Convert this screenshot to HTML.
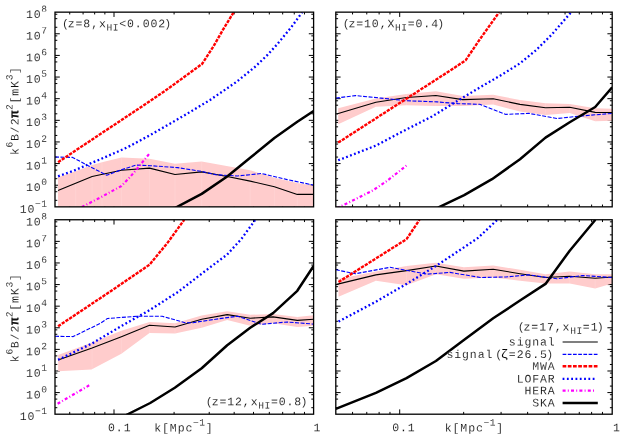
<!DOCTYPE html>
<html><head><meta charset="utf-8"><title>Power spectrum sensitivity</title>
<style>
html,body{margin:0;padding:0;background:#fff;}
body{width:627px;height:439px;overflow:hidden;font-family:"Liberation Mono",monospace;}
svg{display:block;will-change:transform;}
text{font-family:"Liberation Mono",monospace;}
</style></head><body>
<svg width="627" height="439" viewBox="0 0 627 439">
<rect width="100%" height="100%" fill="#fff"/>
<defs>
<clipPath id="cTL"><rect x="55.00" y="12.15" width="258.60" height="194.70"/></clipPath>
<clipPath id="cTR"><rect x="335.80" y="12.15" width="276.40" height="194.70"/></clipPath>
<clipPath id="cBL"><rect x="55.00" y="219.75" width="258.60" height="194.45"/></clipPath>
<clipPath id="cBR"><rect x="335.80" y="219.75" width="276.40" height="194.45"/></clipPath>
</defs>
<path d="M55.00 200.34L57.30 200.34 M313.60 200.34L311.30 200.34 M55.00 191.73L57.30 191.73 M313.60 191.73L311.30 191.73 M55.00 187.31L57.30 187.31 M313.60 187.31L311.30 187.31 M55.00 185.22L59.80 185.22 M313.60 185.22L308.80 185.22 M55.00 178.70L57.30 178.70 M313.60 178.70L311.30 178.70 M55.00 170.10L57.30 170.10 M313.60 170.10L311.30 170.10 M55.00 165.68L57.30 165.68 M313.60 165.68L311.30 165.68 M55.00 163.58L59.80 163.58 M313.60 163.58L308.80 163.58 M55.00 157.07L57.30 157.07 M313.60 157.07L311.30 157.07 M55.00 148.46L57.30 148.46 M313.60 148.46L311.30 148.46 M55.00 144.05L57.30 144.05 M313.60 144.05L311.30 144.05 M55.00 141.95L59.80 141.95 M313.60 141.95L308.80 141.95 M55.00 135.44L57.30 135.44 M313.60 135.44L311.30 135.44 M55.00 126.83L57.30 126.83 M313.60 126.83L311.30 126.83 M55.00 122.41L57.30 122.41 M313.60 122.41L311.30 122.41 M55.00 120.32L59.80 120.32 M313.60 120.32L308.80 120.32 M55.00 113.80L57.30 113.80 M313.60 113.80L311.30 113.80 M55.00 105.20L57.30 105.20 M313.60 105.20L311.30 105.20 M55.00 100.78L57.30 100.78 M313.60 100.78L311.30 100.78 M55.00 98.68L59.80 98.68 M313.60 98.68L308.80 98.68 M55.00 92.17L57.30 92.17 M313.60 92.17L311.30 92.17 M55.00 83.56L57.30 83.56 M313.60 83.56L311.30 83.56 M55.00 79.15L57.30 79.15 M313.60 79.15L311.30 79.15 M55.00 77.05L59.80 77.05 M313.60 77.05L308.80 77.05 M55.00 70.54L57.30 70.54 M313.60 70.54L311.30 70.54 M55.00 61.93L57.30 61.93 M313.60 61.93L311.30 61.93 M55.00 57.51L57.30 57.51 M313.60 57.51L311.30 57.51 M55.00 55.42L59.80 55.42 M313.60 55.42L308.80 55.42 M55.00 48.90L57.30 48.90 M313.60 48.90L311.30 48.90 M55.00 40.30L57.30 40.30 M313.60 40.30L311.30 40.30 M55.00 35.88L57.30 35.88 M313.60 35.88L311.30 35.88 M55.00 33.78L59.80 33.78 M313.60 33.78L308.80 33.78 M55.00 27.27L57.30 27.27 M313.60 27.27L311.30 27.27 M55.00 18.66L57.30 18.66 M313.60 18.66L311.30 18.66 M55.00 14.25L57.30 14.25 M313.60 14.25L311.30 14.25 M69.72 12.15L69.72 14.45 M69.72 206.85L69.72 204.55 M83.08 12.15L83.08 14.45 M83.08 206.85L83.08 204.55 M94.66 12.15L94.66 14.45 M94.66 206.85L94.66 204.55 M104.87 12.15L104.87 14.45 M104.87 206.85L104.87 204.55 M114.00 12.15L114.00 16.95 M114.00 206.85L114.00 202.05 M174.09 12.15L174.09 14.45 M174.09 206.85L174.09 204.55 M209.23 12.15L209.23 14.45 M209.23 206.85L209.23 204.55 M234.17 12.15L234.17 14.45 M234.17 206.85L234.17 204.55 M253.51 12.15L253.51 14.45 M253.51 206.85L253.51 204.55 M269.32 12.15L269.32 14.45 M269.32 206.85L269.32 204.55 M282.68 12.15L282.68 14.45 M282.68 206.85L282.68 204.55 M294.26 12.15L294.26 14.45 M294.26 206.85L294.26 204.55 M304.47 12.15L304.47 14.45 M304.47 206.85L304.47 204.55" stroke="#000" stroke-width="1" fill="none"/>
<path d="M335.80 200.34L338.10 200.34 M612.20 200.34L609.90 200.34 M335.80 191.73L338.10 191.73 M612.20 191.73L609.90 191.73 M335.80 187.31L338.10 187.31 M612.20 187.31L609.90 187.31 M335.80 185.22L340.60 185.22 M612.20 185.22L607.40 185.22 M335.80 178.70L338.10 178.70 M612.20 178.70L609.90 178.70 M335.80 170.10L338.10 170.10 M612.20 170.10L609.90 170.10 M335.80 165.68L338.10 165.68 M612.20 165.68L609.90 165.68 M335.80 163.58L340.60 163.58 M612.20 163.58L607.40 163.58 M335.80 157.07L338.10 157.07 M612.20 157.07L609.90 157.07 M335.80 148.46L338.10 148.46 M612.20 148.46L609.90 148.46 M335.80 144.05L338.10 144.05 M612.20 144.05L609.90 144.05 M335.80 141.95L340.60 141.95 M612.20 141.95L607.40 141.95 M335.80 135.44L338.10 135.44 M612.20 135.44L609.90 135.44 M335.80 126.83L338.10 126.83 M612.20 126.83L609.90 126.83 M335.80 122.41L338.10 122.41 M612.20 122.41L609.90 122.41 M335.80 120.32L340.60 120.32 M612.20 120.32L607.40 120.32 M335.80 113.80L338.10 113.80 M612.20 113.80L609.90 113.80 M335.80 105.20L338.10 105.20 M612.20 105.20L609.90 105.20 M335.80 100.78L338.10 100.78 M612.20 100.78L609.90 100.78 M335.80 98.68L340.60 98.68 M612.20 98.68L607.40 98.68 M335.80 92.17L338.10 92.17 M612.20 92.17L609.90 92.17 M335.80 83.56L338.10 83.56 M612.20 83.56L609.90 83.56 M335.80 79.15L338.10 79.15 M612.20 79.15L609.90 79.15 M335.80 77.05L340.60 77.05 M612.20 77.05L607.40 77.05 M335.80 70.54L338.10 70.54 M612.20 70.54L609.90 70.54 M335.80 61.93L338.10 61.93 M612.20 61.93L609.90 61.93 M335.80 57.51L338.10 57.51 M612.20 57.51L609.90 57.51 M335.80 55.42L340.60 55.42 M612.20 55.42L607.40 55.42 M335.80 48.90L338.10 48.90 M612.20 48.90L609.90 48.90 M335.80 40.30L338.10 40.30 M612.20 40.30L609.90 40.30 M335.80 35.88L338.10 35.88 M612.20 35.88L609.90 35.88 M335.80 33.78L340.60 33.78 M612.20 33.78L607.40 33.78 M335.80 27.27L338.10 27.27 M612.20 27.27L609.90 27.27 M335.80 18.66L338.10 18.66 M612.20 18.66L609.90 18.66 M335.80 14.25L338.10 14.25 M612.20 14.25L609.90 14.25 M352.56 12.15L352.56 14.45 M352.56 206.85L352.56 204.55 M366.78 12.15L366.78 14.45 M366.78 206.85L366.78 204.55 M379.11 12.15L379.11 14.45 M379.11 206.85L379.11 204.55 M389.98 12.15L389.98 14.45 M389.98 206.85L389.98 204.55 M399.70 12.15L399.70 16.95 M399.70 206.85L399.70 202.05 M463.67 12.15L463.67 14.45 M463.67 206.85L463.67 204.55 M501.09 12.15L501.09 14.45 M501.09 206.85L501.09 204.55 M527.64 12.15L527.64 14.45 M527.64 206.85L527.64 204.55 M548.23 12.15L548.23 14.45 M548.23 206.85L548.23 204.55 M565.06 12.15L565.06 14.45 M565.06 206.85L565.06 204.55 M579.28 12.15L579.28 14.45 M579.28 206.85L579.28 204.55 M591.61 12.15L591.61 14.45 M591.61 206.85L591.61 204.55 M602.48 12.15L602.48 14.45 M602.48 206.85L602.48 204.55" stroke="#000" stroke-width="1" fill="none"/>
<path d="M55.00 407.70L57.30 407.70 M313.60 407.70L311.30 407.70 M55.00 399.10L57.30 399.10 M313.60 399.10L311.30 399.10 M55.00 394.69L57.30 394.69 M313.60 394.69L311.30 394.69 M55.00 392.59L59.80 392.59 M313.60 392.59L308.80 392.59 M55.00 386.09L57.30 386.09 M313.60 386.09L311.30 386.09 M55.00 377.49L57.30 377.49 M313.60 377.49L311.30 377.49 M55.00 373.08L57.30 373.08 M313.60 373.08L311.30 373.08 M55.00 370.99L59.80 370.99 M313.60 370.99L308.80 370.99 M55.00 364.48L57.30 364.48 M313.60 364.48L311.30 364.48 M55.00 355.89L57.30 355.89 M313.60 355.89L311.30 355.89 M55.00 351.48L57.30 351.48 M313.60 351.48L311.30 351.48 M55.00 349.38L59.80 349.38 M313.60 349.38L308.80 349.38 M55.00 342.88L57.30 342.88 M313.60 342.88L311.30 342.88 M55.00 334.28L57.30 334.28 M313.60 334.28L311.30 334.28 M55.00 329.87L57.30 329.87 M313.60 329.87L311.30 329.87 M55.00 327.78L59.80 327.78 M313.60 327.78L308.80 327.78 M55.00 321.27L57.30 321.27 M313.60 321.27L311.30 321.27 M55.00 312.68L57.30 312.68 M313.60 312.68L311.30 312.68 M55.00 308.27L57.30 308.27 M313.60 308.27L311.30 308.27 M55.00 306.17L59.80 306.17 M313.60 306.17L308.80 306.17 M55.00 299.67L57.30 299.67 M313.60 299.67L311.30 299.67 M55.00 291.07L57.30 291.07 M313.60 291.07L311.30 291.07 M55.00 286.66L57.30 286.66 M313.60 286.66L311.30 286.66 M55.00 284.57L59.80 284.57 M313.60 284.57L308.80 284.57 M55.00 278.06L57.30 278.06 M313.60 278.06L311.30 278.06 M55.00 269.47L57.30 269.47 M313.60 269.47L311.30 269.47 M55.00 265.05L57.30 265.05 M313.60 265.05L311.30 265.05 M55.00 262.96L59.80 262.96 M313.60 262.96L308.80 262.96 M55.00 256.46L57.30 256.46 M313.60 256.46L311.30 256.46 M55.00 247.86L57.30 247.86 M313.60 247.86L311.30 247.86 M55.00 243.45L57.30 243.45 M313.60 243.45L311.30 243.45 M55.00 241.36L59.80 241.36 M313.60 241.36L308.80 241.36 M55.00 234.85L57.30 234.85 M313.60 234.85L311.30 234.85 M55.00 226.25L57.30 226.25 M313.60 226.25L311.30 226.25 M55.00 221.84L57.30 221.84 M313.60 221.84L311.30 221.84 M69.72 219.75L69.72 222.05 M69.72 414.20L69.72 411.90 M83.08 219.75L83.08 222.05 M83.08 414.20L83.08 411.90 M94.66 219.75L94.66 222.05 M94.66 414.20L94.66 411.90 M104.87 219.75L104.87 222.05 M104.87 414.20L104.87 411.90 M114.00 219.75L114.00 224.55 M114.00 414.20L114.00 409.40 M174.09 219.75L174.09 222.05 M174.09 414.20L174.09 411.90 M209.23 219.75L209.23 222.05 M209.23 414.20L209.23 411.90 M234.17 219.75L234.17 222.05 M234.17 414.20L234.17 411.90 M253.51 219.75L253.51 222.05 M253.51 414.20L253.51 411.90 M269.32 219.75L269.32 222.05 M269.32 414.20L269.32 411.90 M282.68 219.75L282.68 222.05 M282.68 414.20L282.68 411.90 M294.26 219.75L294.26 222.05 M294.26 414.20L294.26 411.90 M304.47 219.75L304.47 222.05 M304.47 414.20L304.47 411.90" stroke="#000" stroke-width="1" fill="none"/>
<path d="M335.80 407.70L338.10 407.70 M612.20 407.70L609.90 407.70 M335.80 399.10L338.10 399.10 M612.20 399.10L609.90 399.10 M335.80 394.69L338.10 394.69 M612.20 394.69L609.90 394.69 M335.80 392.59L340.60 392.59 M612.20 392.59L607.40 392.59 M335.80 386.09L338.10 386.09 M612.20 386.09L609.90 386.09 M335.80 377.49L338.10 377.49 M612.20 377.49L609.90 377.49 M335.80 373.08L338.10 373.08 M612.20 373.08L609.90 373.08 M335.80 370.99L340.60 370.99 M612.20 370.99L607.40 370.99 M335.80 364.48L338.10 364.48 M612.20 364.48L609.90 364.48 M335.80 355.89L338.10 355.89 M612.20 355.89L609.90 355.89 M335.80 351.48L338.10 351.48 M612.20 351.48L609.90 351.48 M335.80 349.38L340.60 349.38 M612.20 349.38L607.40 349.38 M335.80 342.88L338.10 342.88 M612.20 342.88L609.90 342.88 M335.80 334.28L338.10 334.28 M612.20 334.28L609.90 334.28 M335.80 329.87L338.10 329.87 M612.20 329.87L609.90 329.87 M335.80 327.78L340.60 327.78 M612.20 327.78L607.40 327.78 M335.80 321.27L338.10 321.27 M612.20 321.27L609.90 321.27 M335.80 312.68L338.10 312.68 M612.20 312.68L609.90 312.68 M335.80 308.27L338.10 308.27 M612.20 308.27L609.90 308.27 M335.80 306.17L340.60 306.17 M612.20 306.17L607.40 306.17 M335.80 299.67L338.10 299.67 M612.20 299.67L609.90 299.67 M335.80 291.07L338.10 291.07 M612.20 291.07L609.90 291.07 M335.80 286.66L338.10 286.66 M612.20 286.66L609.90 286.66 M335.80 284.57L340.60 284.57 M612.20 284.57L607.40 284.57 M335.80 278.06L338.10 278.06 M612.20 278.06L609.90 278.06 M335.80 269.47L338.10 269.47 M612.20 269.47L609.90 269.47 M335.80 265.05L338.10 265.05 M612.20 265.05L609.90 265.05 M335.80 262.96L340.60 262.96 M612.20 262.96L607.40 262.96 M335.80 256.46L338.10 256.46 M612.20 256.46L609.90 256.46 M335.80 247.86L338.10 247.86 M612.20 247.86L609.90 247.86 M335.80 243.45L338.10 243.45 M612.20 243.45L609.90 243.45 M335.80 241.36L340.60 241.36 M612.20 241.36L607.40 241.36 M335.80 234.85L338.10 234.85 M612.20 234.85L609.90 234.85 M335.80 226.25L338.10 226.25 M612.20 226.25L609.90 226.25 M335.80 221.84L338.10 221.84 M612.20 221.84L609.90 221.84 M352.56 219.75L352.56 222.05 M352.56 414.20L352.56 411.90 M366.78 219.75L366.78 222.05 M366.78 414.20L366.78 411.90 M379.11 219.75L379.11 222.05 M379.11 414.20L379.11 411.90 M389.98 219.75L389.98 222.05 M389.98 414.20L389.98 411.90 M399.70 219.75L399.70 224.55 M399.70 414.20L399.70 409.40 M463.67 219.75L463.67 222.05 M463.67 414.20L463.67 411.90 M501.09 219.75L501.09 222.05 M501.09 414.20L501.09 411.90 M527.64 219.75L527.64 222.05 M527.64 414.20L527.64 411.90 M548.23 219.75L548.23 222.05 M548.23 414.20L548.23 411.90 M565.06 219.75L565.06 222.05 M565.06 414.20L565.06 411.90 M579.28 219.75L579.28 222.05 M579.28 414.20L579.28 411.90 M591.61 219.75L591.61 222.05 M591.61 414.20L591.61 411.90 M602.48 219.75L602.48 222.05 M602.48 414.20L602.48 411.90" stroke="#000" stroke-width="1" fill="none"/>
<g clip-path="url(#cTL)">
<polygon points="58.0,177.3 75.7,171.3 92.1,165.0 102.0,162.3 121.4,157.4 149.5,158.7 175.0,163.8 201.7,161.5 250.2,170.2 274.4,177.8 297.3,182.9 313.6,185.7 313.6,207.0 58.0,207.0" fill="#ffcccc"/>
<clipPath id="fTL"><polygon points="58.0,177.3 75.7,171.3 92.1,165.0 102.0,162.3 121.4,157.4 149.5,158.7 175.0,163.8 201.7,161.5 250.2,170.2 274.4,177.8 297.3,182.9 313.6,185.7 313.6,207.0 58.0,207.0"/></clipPath>
<path d="M75.7 12.2V206.8 M92.1 12.2V206.8 M102.0 12.2V206.8 M121.4 12.2V206.8 M149.5 12.2V206.8 M175.0 12.2V206.8 M201.7 12.2V206.8 M250.2 12.2V206.8 M274.4 12.2V206.8 M297.3 12.2V206.8" stroke="#fff" stroke-opacity="0.22" stroke-width="0.6" clip-path="url(#fTL)"/>
<polyline points="58.0,190.5 92.1,176.5 121.4,170.2 149.5,168.1 175.0,174.5 201.7,171.9 227.2,176.5 250.2,181.1 274.4,186.7 297.3,194.4 313.6,194.4" fill="none" stroke="#000" stroke-width="1.1" stroke-linejoin="round"/>
<polyline points="55.0,157.0 72.6,157.4 88.2,165.7 106.8,175.2 121.3,169.8 135.9,165.1 150.4,165.7 177.6,167.6 201.7,171.4 215.7,174.7 237.4,176.0 261.6,173.5 287.1,179.6 313.6,185.1" fill="none" stroke="#0000ff" stroke-width="1.1" stroke-dasharray="4.0 1.5" stroke-linejoin="round"/>
<polyline points="58.1,162.2 90.0,140.9 136.5,110.1 164.9,91.0 202.0,64.0 213.2,46.8 223.4,29.0 233.7,12.2" fill="none" stroke="#ff0000" stroke-width="2.4" stroke-dasharray="3.3 1.15" stroke-linejoin="round"/>
<polyline points="58.1,176.3 75.0,170.2 90.0,163.6 100.0,159.4 111.0,154.6 123.6,149.0 130.0,145.9 150.0,135.2 170.0,123.7 185.0,115.0 210.0,100.0 236.6,81.8 255.7,66.3 267.2,55.2 277.0,44.5 291.0,27.6 302.2,12.2" fill="none" stroke="#0000ff" stroke-width="2.3" stroke-dasharray="1.8 2.45" stroke-linejoin="round"/>
<polyline points="81.8,207.0 98.3,198.6 113.3,190.4 121.5,186.0 129.7,177.4 137.9,167.8 149.6,153.4" fill="none" stroke="#ff00ff" stroke-width="2.2" stroke-dasharray="3 2.2 1 2.2" stroke-linejoin="round"/>
<polyline points="175.3,207.8 201.7,193.9 227.2,176.5 251.4,156.8 274.4,138.0 297.3,121.7 313.6,111.0" fill="none" stroke="#000" stroke-width="2.5" stroke-linejoin="round"/>
</g>
<g clip-path="url(#cTR)">
<polygon points="338.2,108.3 375.9,98.4 406.5,94.0 435.9,91.2 462.7,96.0 493.2,94.7 520.0,100.0 545.5,103.2 569.7,103.9 595.2,108.3 612.2,108.8 612.2,120.8 595.2,121.3 569.7,112.9 545.5,114.9 520.0,111.6 493.2,104.5 462.7,106.0 435.9,106.0 406.5,105.3 375.9,106.8 338.2,124.3" fill="#ffcccc"/>
<clipPath id="fTR"><polygon points="338.2,108.3 375.9,98.4 406.5,94.0 435.9,91.2 462.7,96.0 493.2,94.7 520.0,100.0 545.5,103.2 569.7,103.9 595.2,108.3 612.2,108.8 612.2,120.8 595.2,121.3 569.7,112.9 545.5,114.9 520.0,111.6 493.2,104.5 462.7,106.0 435.9,106.0 406.5,105.3 375.9,106.8 338.2,124.3"/></clipPath>
<path d="M375.9 12.2V206.8 M406.5 12.2V206.8 M435.9 12.2V206.8 M462.7 12.2V206.8 M493.2 12.2V206.8 M520.0 12.2V206.8 M545.5 12.2V206.8 M569.7 12.2V206.8 M595.2 12.2V206.8" stroke="#fff" stroke-opacity="0.22" stroke-width="0.6" clip-path="url(#fTR)"/>
<polyline points="336.6,114.0 375.9,102.2 406.5,97.5 435.9,95.5 462.7,99.6 493.2,98.8 520.0,104.4 545.5,107.7 569.7,107.3 595.2,112.4 612.2,112.5" fill="none" stroke="#000" stroke-width="1.1" stroke-linejoin="round"/>
<polyline points="335.8,98.1 355.5,95.6 381.0,98.1 406.5,100.7 437.1,101.9 457.6,103.6 479.7,104.3 505.9,114.4 528.9,113.4 556.9,118.5 582.4,115.9 612.2,113.4" fill="none" stroke="#0000ff" stroke-width="1.1" stroke-dasharray="4.0 1.5" stroke-linejoin="round"/>
<polyline points="338.2,142.6 451.0,70.0 465.6,60.3 480.6,38.2 499.2,12.2" fill="none" stroke="#ff0000" stroke-width="2.4" stroke-dasharray="3.3 1.15" stroke-linejoin="round"/>
<polyline points="338.2,160.3 375.9,145.6 401.0,132.3 431.9,116.5 454.2,102.9 463.8,97.1 479.7,87.5 500.0,75.8 520.0,63.3 536.0,50.2 551.9,34.4 561.5,23.3 571.2,12.2" fill="none" stroke="#0000ff" stroke-width="2.3" stroke-dasharray="1.8 2.45" stroke-linejoin="round"/>
<polyline points="337.0,208.1 355.9,199.0 372.5,190.6 386.2,181.5 400.6,170.2 406.6,165.4" fill="none" stroke="#ff00ff" stroke-width="2.2" stroke-dasharray="3 2.2 1 2.2" stroke-linejoin="round"/>
<polyline points="438.0,207.6 464.2,195.2 492.0,179.2 520.0,159.3 545.5,137.6 569.7,122.3 595.2,107.0 612.2,87.2" fill="none" stroke="#000" stroke-width="2.5" stroke-linejoin="round"/>
</g>
<g clip-path="url(#cBL)">
<polygon points="58.1,355.0 92.1,342.6 121.4,330.8 149.5,321.9 175.0,323.2 201.7,315.6 227.2,311.3 250.2,314.8 273.1,314.1 297.3,316.9 313.6,315.3 313.6,325.7 297.3,327.0 273.1,323.2 250.2,325.7 227.2,320.1 201.7,327.8 175.0,333.4 149.5,332.9 121.4,353.8 91.5,369.4 58.1,371.3" fill="#ffcccc"/>
<clipPath id="fBL"><polygon points="58.1,355.0 92.1,342.6 121.4,330.8 149.5,321.9 175.0,323.2 201.7,315.6 227.2,311.3 250.2,314.8 273.1,314.1 297.3,316.9 313.6,315.3 313.6,325.7 297.3,327.0 273.1,323.2 250.2,325.7 227.2,320.1 201.7,327.8 175.0,333.4 149.5,332.9 121.4,353.8 91.5,369.4 58.1,371.3"/></clipPath>
<path d="M92.1 219.8V414.2 M121.4 219.8V414.2 M149.5 219.8V414.2 M175.0 219.8V414.2 M201.7 219.8V414.2 M227.2 219.8V414.2 M250.2 219.8V414.2 M273.1 219.8V414.2 M297.3 219.8V414.2" stroke="#fff" stroke-opacity="0.22" stroke-width="0.6" clip-path="url(#fBL)"/>
<polyline points="58.1,360.1 92.1,348.0 121.4,336.7 149.5,325.2 175.0,327.0 201.7,319.2 227.2,314.6 250.2,318.2 273.1,316.9 297.3,320.4 313.6,319.2" fill="none" stroke="#000" stroke-width="1.1" stroke-linejoin="round"/>
<polyline points="55.0,336.3 73.2,336.6 100.0,323.5 107.4,318.5 136.7,316.3 162.2,316.3 185.2,322.7 192.8,322.7 215.7,319.2 237.4,316.2 261.6,324.3 287.1,322.0 313.6,324.1" fill="none" stroke="#0000ff" stroke-width="1.1" stroke-dasharray="4.0 1.5" stroke-linejoin="round"/>
<polyline points="58.1,326.3 112.5,290.0 149.5,264.7 167.3,243.1 184.2,219.8" fill="none" stroke="#ff0000" stroke-width="2.4" stroke-dasharray="3.3 1.15" stroke-linejoin="round"/>
<polyline points="58.1,359.8 92.1,343.4 121.4,326.0 149.5,310.2 177.6,292.2 205.5,270.8 227.2,254.5 241.2,239.2 255.3,219.8" fill="none" stroke="#0000ff" stroke-width="2.3" stroke-dasharray="1.8 2.45" stroke-linejoin="round"/>
<polyline points="57.6,403.8 89.4,385.2" fill="none" stroke="#ff00ff" stroke-width="2.2" stroke-dasharray="3 2.2 1 2.2" stroke-linejoin="round"/>
<polyline points="126.2,415.0 150.2,403.0 174.8,387.8 201.7,368.3 227.2,345.3 250.2,327.8 273.1,313.1 297.3,290.8 313.6,266.0" fill="none" stroke="#000" stroke-width="2.5" stroke-linejoin="round"/>
</g>
<g clip-path="url(#cBR)">
<polygon points="338.5,278.9 375.9,271.6 406.5,266.0 435.9,262.7 463.9,267.3 493.2,265.5 520.0,269.8 545.5,274.2 569.7,271.6 595.2,274.2 612.2,274.2 612.2,283.4 595.2,288.5 569.7,283.4 545.5,283.4 520.0,280.8 493.2,277.5 463.9,278.8 435.9,274.2 406.5,285.2 375.9,280.8 338.5,296.8" fill="#ffcccc"/>
<clipPath id="fBR"><polygon points="338.5,278.9 375.9,271.6 406.5,266.0 435.9,262.7 463.9,267.3 493.2,265.5 520.0,269.8 545.5,274.2 569.7,271.6 595.2,274.2 612.2,274.2 612.2,283.4 595.2,288.5 569.7,283.4 545.5,283.4 520.0,280.8 493.2,277.5 463.9,278.8 435.9,274.2 406.5,285.2 375.9,280.8 338.5,296.8"/></clipPath>
<path d="M375.9 219.8V414.2 M406.5 219.8V414.2 M435.9 219.8V414.2 M463.9 219.8V414.2 M493.2 219.8V414.2 M520.0 219.8V414.2 M545.5 219.8V414.2 M569.7 219.8V414.2 M595.2 219.8V414.2" stroke="#fff" stroke-opacity="0.22" stroke-width="0.6" clip-path="url(#fBR)"/>
<polyline points="336.6,284.4 375.9,274.9 406.5,270.6 435.9,266.0 463.9,271.1 493.2,269.3 520.0,273.7 545.5,277.5 569.7,276.2 595.2,278.3 612.2,277.0" fill="none" stroke="#000" stroke-width="1.1" stroke-linejoin="round"/>
<polyline points="335.8,269.8 355.5,273.7 390.0,267.3 426.9,274.2 449.9,272.4 480.4,277.5 505.9,277.0 528.9,274.9 556.9,278.8 582.4,275.5 612.2,277.5" fill="none" stroke="#0000ff" stroke-width="1.1" stroke-dasharray="4.0 1.5" stroke-linejoin="round"/>
<polyline points="338.5,282.0 406.5,239.2 419.5,219.8" fill="none" stroke="#ff0000" stroke-width="2.4" stroke-dasharray="3.3 1.15" stroke-linejoin="round"/>
<polyline points="338.5,321.6 375.9,301.7 406.5,283.9 435.9,266.0 462.7,248.2 477.9,238.0 497.2,219.8" fill="none" stroke="#0000ff" stroke-width="2.3" stroke-dasharray="1.8 2.45" stroke-linejoin="round"/>
<polyline points="335.8,408.9 375.9,392.9 406.5,378.1 435.9,361.0 463.9,340.1 493.2,318.3 520.0,300.5 545.5,283.9 569.7,250.7 595.4,219.8" fill="none" stroke="#000" stroke-width="2.5" stroke-linejoin="round"/>
</g>
<rect x="55.00" y="12.15" width="258.60" height="194.70" fill="none" stroke="#000" stroke-width="1.3"/>
<rect x="335.80" y="12.15" width="276.40" height="194.70" fill="none" stroke="#000" stroke-width="1.3"/>
<rect x="55.00" y="219.75" width="258.60" height="194.45" fill="none" stroke="#000" stroke-width="1.3"/>
<rect x="335.80" y="219.75" width="276.40" height="194.45" fill="none" stroke="#000" stroke-width="1.3"/>
<g fill="#111" stroke="#fff" stroke-width="0.40"><g transform="translate(47.30,212.65)"><text transform="translate(-27.63,0.00) rotate(0.03) scale(0.2500)" font-size="46.00">1</text><text transform="translate(-19.83,0.00) rotate(0.03) scale(0.2500)" font-size="46.00">0</text><text transform="translate(-12.24,-6.00) rotate(0.03) scale(0.2500)" font-size="38.40">−</text><text transform="translate(-6.00,-6.00) rotate(0.03) scale(0.2500)" font-size="38.40">1</text></g></g>
<g fill="#111" stroke="#fff" stroke-width="0.40"><g transform="translate(47.30,191.02)"><text transform="translate(-21.39,0.00) rotate(0.03) scale(0.2500)" font-size="46.00">1</text><text transform="translate(-13.59,0.00) rotate(0.03) scale(0.2500)" font-size="46.00">0</text><text transform="translate(-6.00,-6.00) rotate(0.03) scale(0.2500)" font-size="38.40">0</text></g></g>
<g fill="#111" stroke="#fff" stroke-width="0.40"><g transform="translate(47.30,169.38)"><text transform="translate(-21.39,0.00) rotate(0.03) scale(0.2500)" font-size="46.00">1</text><text transform="translate(-13.59,0.00) rotate(0.03) scale(0.2500)" font-size="46.00">0</text><text transform="translate(-6.00,-6.00) rotate(0.03) scale(0.2500)" font-size="38.40">1</text></g></g>
<g fill="#111" stroke="#fff" stroke-width="0.40"><g transform="translate(47.30,147.75)"><text transform="translate(-21.39,0.00) rotate(0.03) scale(0.2500)" font-size="46.00">1</text><text transform="translate(-13.59,0.00) rotate(0.03) scale(0.2500)" font-size="46.00">0</text><text transform="translate(-6.00,-6.00) rotate(0.03) scale(0.2500)" font-size="38.40">2</text></g></g>
<g fill="#111" stroke="#fff" stroke-width="0.40"><g transform="translate(47.30,126.12)"><text transform="translate(-21.39,0.00) rotate(0.03) scale(0.2500)" font-size="46.00">1</text><text transform="translate(-13.59,0.00) rotate(0.03) scale(0.2500)" font-size="46.00">0</text><text transform="translate(-6.00,-6.00) rotate(0.03) scale(0.2500)" font-size="38.40">3</text></g></g>
<g fill="#111" stroke="#fff" stroke-width="0.40"><g transform="translate(47.30,104.48)"><text transform="translate(-21.39,0.00) rotate(0.03) scale(0.2500)" font-size="46.00">1</text><text transform="translate(-13.59,0.00) rotate(0.03) scale(0.2500)" font-size="46.00">0</text><text transform="translate(-6.00,-6.00) rotate(0.03) scale(0.2500)" font-size="38.40">4</text></g></g>
<g fill="#111" stroke="#fff" stroke-width="0.40"><g transform="translate(47.30,82.85)"><text transform="translate(-21.39,0.00) rotate(0.03) scale(0.2500)" font-size="46.00">1</text><text transform="translate(-13.59,0.00) rotate(0.03) scale(0.2500)" font-size="46.00">0</text><text transform="translate(-6.00,-6.00) rotate(0.03) scale(0.2500)" font-size="38.40">5</text></g></g>
<g fill="#111" stroke="#fff" stroke-width="0.40"><g transform="translate(47.30,61.22)"><text transform="translate(-21.39,0.00) rotate(0.03) scale(0.2500)" font-size="46.00">1</text><text transform="translate(-13.59,0.00) rotate(0.03) scale(0.2500)" font-size="46.00">0</text><text transform="translate(-6.00,-6.00) rotate(0.03) scale(0.2500)" font-size="38.40">6</text></g></g>
<g fill="#111" stroke="#fff" stroke-width="0.40"><g transform="translate(47.30,39.58)"><text transform="translate(-21.39,0.00) rotate(0.03) scale(0.2500)" font-size="46.00">1</text><text transform="translate(-13.59,0.00) rotate(0.03) scale(0.2500)" font-size="46.00">0</text><text transform="translate(-6.00,-6.00) rotate(0.03) scale(0.2500)" font-size="38.40">7</text></g></g>
<g fill="#111" stroke="#fff" stroke-width="0.40"><g transform="translate(47.30,17.95)"><text transform="translate(-21.39,0.00) rotate(0.03) scale(0.2500)" font-size="46.00">1</text><text transform="translate(-13.59,0.00) rotate(0.03) scale(0.2500)" font-size="46.00">0</text><text transform="translate(-6.00,-6.00) rotate(0.03) scale(0.2500)" font-size="38.40">8</text></g></g>
<g fill="#111" stroke="#fff" stroke-width="0.40"><g transform="translate(47.30,420.00)"><text transform="translate(-27.63,0.00) rotate(0.03) scale(0.2500)" font-size="46.00">1</text><text transform="translate(-19.83,0.00) rotate(0.03) scale(0.2500)" font-size="46.00">0</text><text transform="translate(-12.24,-6.00) rotate(0.03) scale(0.2500)" font-size="38.40">−</text><text transform="translate(-6.00,-6.00) rotate(0.03) scale(0.2500)" font-size="38.40">1</text></g></g>
<g fill="#111" stroke="#fff" stroke-width="0.40"><g transform="translate(47.30,398.39)"><text transform="translate(-21.39,0.00) rotate(0.03) scale(0.2500)" font-size="46.00">1</text><text transform="translate(-13.59,0.00) rotate(0.03) scale(0.2500)" font-size="46.00">0</text><text transform="translate(-6.00,-6.00) rotate(0.03) scale(0.2500)" font-size="38.40">0</text></g></g>
<g fill="#111" stroke="#fff" stroke-width="0.40"><g transform="translate(47.30,376.79)"><text transform="translate(-21.39,0.00) rotate(0.03) scale(0.2500)" font-size="46.00">1</text><text transform="translate(-13.59,0.00) rotate(0.03) scale(0.2500)" font-size="46.00">0</text><text transform="translate(-6.00,-6.00) rotate(0.03) scale(0.2500)" font-size="38.40">1</text></g></g>
<g fill="#111" stroke="#fff" stroke-width="0.40"><g transform="translate(47.30,355.18)"><text transform="translate(-21.39,0.00) rotate(0.03) scale(0.2500)" font-size="46.00">1</text><text transform="translate(-13.59,0.00) rotate(0.03) scale(0.2500)" font-size="46.00">0</text><text transform="translate(-6.00,-6.00) rotate(0.03) scale(0.2500)" font-size="38.40">2</text></g></g>
<g fill="#111" stroke="#fff" stroke-width="0.40"><g transform="translate(47.30,333.58)"><text transform="translate(-21.39,0.00) rotate(0.03) scale(0.2500)" font-size="46.00">1</text><text transform="translate(-13.59,0.00) rotate(0.03) scale(0.2500)" font-size="46.00">0</text><text transform="translate(-6.00,-6.00) rotate(0.03) scale(0.2500)" font-size="38.40">3</text></g></g>
<g fill="#111" stroke="#fff" stroke-width="0.40"><g transform="translate(47.30,311.97)"><text transform="translate(-21.39,0.00) rotate(0.03) scale(0.2500)" font-size="46.00">1</text><text transform="translate(-13.59,0.00) rotate(0.03) scale(0.2500)" font-size="46.00">0</text><text transform="translate(-6.00,-6.00) rotate(0.03) scale(0.2500)" font-size="38.40">4</text></g></g>
<g fill="#111" stroke="#fff" stroke-width="0.40"><g transform="translate(47.30,290.37)"><text transform="translate(-21.39,0.00) rotate(0.03) scale(0.2500)" font-size="46.00">1</text><text transform="translate(-13.59,0.00) rotate(0.03) scale(0.2500)" font-size="46.00">0</text><text transform="translate(-6.00,-6.00) rotate(0.03) scale(0.2500)" font-size="38.40">5</text></g></g>
<g fill="#111" stroke="#fff" stroke-width="0.40"><g transform="translate(47.30,268.76)"><text transform="translate(-21.39,0.00) rotate(0.03) scale(0.2500)" font-size="46.00">1</text><text transform="translate(-13.59,0.00) rotate(0.03) scale(0.2500)" font-size="46.00">0</text><text transform="translate(-6.00,-6.00) rotate(0.03) scale(0.2500)" font-size="38.40">6</text></g></g>
<g fill="#111" stroke="#fff" stroke-width="0.40"><g transform="translate(47.30,247.16)"><text transform="translate(-21.39,0.00) rotate(0.03) scale(0.2500)" font-size="46.00">1</text><text transform="translate(-13.59,0.00) rotate(0.03) scale(0.2500)" font-size="46.00">0</text><text transform="translate(-6.00,-6.00) rotate(0.03) scale(0.2500)" font-size="38.40">7</text></g></g>
<g fill="#111" stroke="#fff" stroke-width="0.40"><g transform="translate(47.30,225.55)"><text transform="translate(-21.39,0.00) rotate(0.03) scale(0.2500)" font-size="46.00">1</text><text transform="translate(-13.59,0.00) rotate(0.03) scale(0.2500)" font-size="46.00">0</text><text transform="translate(-6.00,-6.00) rotate(0.03) scale(0.2500)" font-size="38.40">8</text></g></g>
<g fill="#111" stroke="#fff" stroke-width="0.40"><g transform="translate(18.40,111.00) rotate(-90)"><text transform="translate(-44.01,0.00) rotate(0.03) scale(0.2500)" font-size="46.00">k</text><text transform="translate(-36.42,-6.00) rotate(0.03) scale(0.2500)" font-size="38.40">6</text><text transform="translate(-29.97,0.00) rotate(0.03) scale(0.2500)" font-size="46.00">B</text><text transform="translate(-22.17,0.00) rotate(0.03) scale(0.2500)" font-size="46.00">/</text><text transform="translate(-14.37,0.00) rotate(0.03) scale(0.2500)" font-size="46.00">2</text><text transform="translate(-7.17,0.00) rotate(0.03) scale(0.2500)" font-size="53.82" font-weight="bold" stroke="none">π</text><text transform="translate(1.02,-6.00) rotate(0.03) scale(0.2500)" font-size="38.40">2</text><text transform="translate(7.47,0.00) rotate(0.03) scale(0.2500)" font-size="46.00">[</text><text transform="translate(15.27,0.00) rotate(0.03) scale(0.2500)" font-size="46.00">m</text><text transform="translate(23.07,0.00) rotate(0.03) scale(0.2500)" font-size="46.00">K</text><text transform="translate(30.66,-6.00) rotate(0.03) scale(0.2500)" font-size="38.40">3</text><text transform="translate(37.11,0.00) rotate(0.03) scale(0.2500)" font-size="46.00">]</text></g></g>
<g fill="#111" stroke="#fff" stroke-width="0.40"><g transform="translate(18.40,318.20) rotate(-90)"><text transform="translate(-44.01,0.00) rotate(0.03) scale(0.2500)" font-size="46.00">k</text><text transform="translate(-36.42,-6.00) rotate(0.03) scale(0.2500)" font-size="38.40">6</text><text transform="translate(-29.97,0.00) rotate(0.03) scale(0.2500)" font-size="46.00">B</text><text transform="translate(-22.17,0.00) rotate(0.03) scale(0.2500)" font-size="46.00">/</text><text transform="translate(-14.37,0.00) rotate(0.03) scale(0.2500)" font-size="46.00">2</text><text transform="translate(-7.17,0.00) rotate(0.03) scale(0.2500)" font-size="53.82" font-weight="bold" stroke="none">π</text><text transform="translate(1.02,-6.00) rotate(0.03) scale(0.2500)" font-size="38.40">2</text><text transform="translate(7.47,0.00) rotate(0.03) scale(0.2500)" font-size="46.00">[</text><text transform="translate(15.27,0.00) rotate(0.03) scale(0.2500)" font-size="46.00">m</text><text transform="translate(23.07,0.00) rotate(0.03) scale(0.2500)" font-size="46.00">K</text><text transform="translate(30.66,-6.00) rotate(0.03) scale(0.2500)" font-size="38.40">3</text><text transform="translate(37.11,0.00) rotate(0.03) scale(0.2500)" font-size="46.00">]</text></g></g>
<g fill="#111" stroke="#fff" stroke-width="0.40"><g transform="translate(107.60,431.30)"><text transform="translate(0.45,0.00) rotate(0.03) scale(0.2500)" font-size="46.00">0</text><text transform="translate(8.25,0.00) rotate(0.03) scale(0.2500)" font-size="46.00">.</text><text transform="translate(16.05,0.00) rotate(0.03) scale(0.2500)" font-size="46.00">1</text></g></g>
<g fill="#111" stroke="#fff" stroke-width="0.40"><g transform="translate(313.00,431.30)"><text transform="translate(0.45,0.00) rotate(0.03) scale(0.2500)" font-size="46.00">1</text></g></g>
<g fill="#111" stroke="#fff" stroke-width="0.40"><g transform="translate(391.80,431.30)"><text transform="translate(0.45,0.00) rotate(0.03) scale(0.2500)" font-size="46.00">0</text><text transform="translate(8.25,0.00) rotate(0.03) scale(0.2500)" font-size="46.00">.</text><text transform="translate(16.05,0.00) rotate(0.03) scale(0.2500)" font-size="46.00">1</text></g></g>
<g fill="#111" stroke="#fff" stroke-width="0.40"><g transform="translate(612.60,431.30)"><text transform="translate(0.45,0.00) rotate(0.03) scale(0.2500)" font-size="46.00">1</text></g></g>
<g fill="#111" stroke="#fff" stroke-width="0.40"><g transform="translate(153.80,431.60)"><text transform="translate(0.45,0.00) rotate(0.03) scale(0.2500)" font-size="46.00">k</text><text transform="translate(8.25,0.00) rotate(0.03) scale(0.2500)" font-size="46.00">[</text><text transform="translate(16.05,0.00) rotate(0.03) scale(0.2500)" font-size="46.00">M</text><text transform="translate(23.85,0.00) rotate(0.03) scale(0.2500)" font-size="46.00">p</text><text transform="translate(31.65,0.00) rotate(0.03) scale(0.2500)" font-size="46.00">c</text><text transform="translate(39.24,-6.00) rotate(0.03) scale(0.2500)" font-size="38.40">−</text><text transform="translate(45.48,-6.00) rotate(0.03) scale(0.2500)" font-size="38.40">1</text><text transform="translate(51.93,0.00) rotate(0.03) scale(0.2500)" font-size="46.00">]</text></g></g>
<g fill="#111" stroke="#fff" stroke-width="0.40"><g transform="translate(444.30,431.60)"><text transform="translate(0.45,0.00) rotate(0.03) scale(0.2500)" font-size="46.00">k</text><text transform="translate(8.25,0.00) rotate(0.03) scale(0.2500)" font-size="46.00">[</text><text transform="translate(16.05,0.00) rotate(0.03) scale(0.2500)" font-size="46.00">M</text><text transform="translate(23.85,0.00) rotate(0.03) scale(0.2500)" font-size="46.00">p</text><text transform="translate(31.65,0.00) rotate(0.03) scale(0.2500)" font-size="46.00">c</text><text transform="translate(39.24,-6.00) rotate(0.03) scale(0.2500)" font-size="38.40">−</text><text transform="translate(45.48,-6.00) rotate(0.03) scale(0.2500)" font-size="38.40">1</text><text transform="translate(51.93,0.00) rotate(0.03) scale(0.2500)" font-size="46.00">]</text></g></g>
<g fill="#111" stroke="#fff" stroke-width="0.40"><g transform="translate(59.50,27.20)"><text transform="translate(2.45,0.00) rotate(0.03) scale(0.2500)" font-size="46.00">(</text><text transform="translate(8.25,0.00) rotate(0.03) scale(0.2500)" font-size="46.00">z</text><text transform="translate(16.05,0.00) rotate(0.03) scale(0.2500)" font-size="46.00">=</text><text transform="translate(23.85,0.00) rotate(0.03) scale(0.2500)" font-size="46.00">8</text><text transform="translate(31.65,0.00) rotate(0.03) scale(0.2500)" font-size="46.00">,</text><text transform="translate(39.45,0.00) rotate(0.03) scale(0.2500)" font-size="46.00">x</text><text transform="translate(47.04,3.20) rotate(0.03) scale(0.2500)" font-size="38.40">H</text><text transform="translate(53.28,3.20) rotate(0.03) scale(0.2500)" font-size="38.40">I</text><text transform="translate(59.73,0.00) rotate(0.03) scale(0.2500)" font-size="46.00">&lt;</text><text transform="translate(67.53,0.00) rotate(0.03) scale(0.2500)" font-size="46.00">0</text><text transform="translate(75.33,0.00) rotate(0.03) scale(0.2500)" font-size="46.00">.</text><text transform="translate(83.13,0.00) rotate(0.03) scale(0.2500)" font-size="46.00">0</text><text transform="translate(90.93,0.00) rotate(0.03) scale(0.2500)" font-size="46.00">0</text><text transform="translate(98.73,0.00) rotate(0.03) scale(0.2500)" font-size="46.00">2</text><text transform="translate(104.83,0.00) rotate(0.03) scale(0.2500)" font-size="46.00">)</text></g></g>
<g fill="#111" stroke="#fff" stroke-width="0.40"><g transform="translate(340.20,27.20)"><text transform="translate(2.45,0.00) rotate(0.03) scale(0.2500)" font-size="46.00">(</text><text transform="translate(8.25,0.00) rotate(0.03) scale(0.2500)" font-size="46.00">z</text><text transform="translate(16.05,0.00) rotate(0.03) scale(0.2500)" font-size="46.00">=</text><text transform="translate(23.85,0.00) rotate(0.03) scale(0.2500)" font-size="46.00">1</text><text transform="translate(31.65,0.00) rotate(0.03) scale(0.2500)" font-size="46.00">0</text><text transform="translate(39.45,0.00) rotate(0.03) scale(0.2500)" font-size="46.00">,</text><text transform="translate(47.25,0.00) rotate(0.03) scale(0.2500)" font-size="46.00">X</text><text transform="translate(54.84,3.20) rotate(0.03) scale(0.2500)" font-size="38.40">H</text><text transform="translate(61.08,3.20) rotate(0.03) scale(0.2500)" font-size="38.40">I</text><text transform="translate(67.53,0.00) rotate(0.03) scale(0.2500)" font-size="46.00">=</text><text transform="translate(75.33,0.00) rotate(0.03) scale(0.2500)" font-size="46.00">0</text><text transform="translate(83.13,0.00) rotate(0.03) scale(0.2500)" font-size="46.00">.</text><text transform="translate(90.93,0.00) rotate(0.03) scale(0.2500)" font-size="46.00">4</text><text transform="translate(97.03,0.00) rotate(0.03) scale(0.2500)" font-size="46.00">)</text></g></g>
<g fill="#111" stroke="#fff" stroke-width="0.40"><g transform="translate(203.40,405.20)"><text transform="translate(2.45,0.00) rotate(0.03) scale(0.2500)" font-size="46.00">(</text><text transform="translate(8.25,0.00) rotate(0.03) scale(0.2500)" font-size="46.00">z</text><text transform="translate(16.05,0.00) rotate(0.03) scale(0.2500)" font-size="46.00">=</text><text transform="translate(23.85,0.00) rotate(0.03) scale(0.2500)" font-size="46.00">1</text><text transform="translate(31.65,0.00) rotate(0.03) scale(0.2500)" font-size="46.00">2</text><text transform="translate(39.45,0.00) rotate(0.03) scale(0.2500)" font-size="46.00">,</text><text transform="translate(47.25,0.00) rotate(0.03) scale(0.2500)" font-size="46.00">x</text><text transform="translate(54.84,3.20) rotate(0.03) scale(0.2500)" font-size="38.40">H</text><text transform="translate(61.08,3.20) rotate(0.03) scale(0.2500)" font-size="38.40">I</text><text transform="translate(67.53,0.00) rotate(0.03) scale(0.2500)" font-size="46.00">=</text><text transform="translate(75.33,0.00) rotate(0.03) scale(0.2500)" font-size="46.00">0</text><text transform="translate(83.13,0.00) rotate(0.03) scale(0.2500)" font-size="46.00">.</text><text transform="translate(90.93,0.00) rotate(0.03) scale(0.2500)" font-size="46.00">8</text><text transform="translate(97.03,0.00) rotate(0.03) scale(0.2500)" font-size="46.00">)</text></g></g>
<g fill="#111" stroke="#fff" stroke-width="0.40"><g transform="translate(515.30,330.50)"><text transform="translate(2.45,0.00) rotate(0.03) scale(0.2500)" font-size="46.00">(</text><text transform="translate(8.25,0.00) rotate(0.03) scale(0.2500)" font-size="46.00">z</text><text transform="translate(16.05,0.00) rotate(0.03) scale(0.2500)" font-size="46.00">=</text><text transform="translate(23.85,0.00) rotate(0.03) scale(0.2500)" font-size="46.00">1</text><text transform="translate(31.65,0.00) rotate(0.03) scale(0.2500)" font-size="46.00">7</text><text transform="translate(39.45,0.00) rotate(0.03) scale(0.2500)" font-size="46.00">,</text><text transform="translate(47.25,0.00) rotate(0.03) scale(0.2500)" font-size="46.00">x</text><text transform="translate(54.84,3.20) rotate(0.03) scale(0.2500)" font-size="38.40">H</text><text transform="translate(61.08,3.20) rotate(0.03) scale(0.2500)" font-size="38.40">I</text><text transform="translate(67.53,0.00) rotate(0.03) scale(0.2500)" font-size="46.00">=</text><text transform="translate(75.33,0.00) rotate(0.03) scale(0.2500)" font-size="46.00">1</text><text transform="translate(81.43,0.00) rotate(0.03) scale(0.2500)" font-size="46.00">)</text></g></g>
<g fill="#111" stroke="#fff" stroke-width="0.40"><g transform="translate(555.20,345.60)"><text transform="translate(-46.35,0.00) rotate(0.03) scale(0.2500)" font-size="46.00">s</text><text transform="translate(-38.55,0.00) rotate(0.03) scale(0.2500)" font-size="46.00">i</text><text transform="translate(-30.75,0.00) rotate(0.03) scale(0.2500)" font-size="46.00">g</text><text transform="translate(-22.95,0.00) rotate(0.03) scale(0.2500)" font-size="46.00">n</text><text transform="translate(-15.15,0.00) rotate(0.03) scale(0.2500)" font-size="46.00">a</text><text transform="translate(-7.35,0.00) rotate(0.03) scale(0.2500)" font-size="46.00">l</text></g></g>
<g fill="#111" stroke="#fff" stroke-width="0.40"><g transform="translate(555.20,358.00)"><text transform="translate(-108.75,0.00) rotate(0.03) scale(0.2500)" font-size="46.00">s</text><text transform="translate(-100.95,0.00) rotate(0.03) scale(0.2500)" font-size="46.00">i</text><text transform="translate(-93.15,0.00) rotate(0.03) scale(0.2500)" font-size="46.00">g</text><text transform="translate(-85.35,0.00) rotate(0.03) scale(0.2500)" font-size="46.00">n</text><text transform="translate(-77.55,0.00) rotate(0.03) scale(0.2500)" font-size="46.00">a</text><text transform="translate(-69.75,0.00) rotate(0.03) scale(0.2500)" font-size="46.00">l</text><text transform="translate(-59.95,0.00) rotate(0.03) scale(0.2500)" font-size="46.00">(</text><text transform="translate(-54.35,0.00) rotate(0.03) scale(0.2500)" font-size="49.68" stroke="none" fill="#000">ζ</text><text transform="translate(-46.35,0.00) rotate(0.03) scale(0.2500)" font-size="46.00">=</text><text transform="translate(-38.55,0.00) rotate(0.03) scale(0.2500)" font-size="46.00">2</text><text transform="translate(-30.75,0.00) rotate(0.03) scale(0.2500)" font-size="46.00">6</text><text transform="translate(-22.95,0.00) rotate(0.03) scale(0.2500)" font-size="46.00">.</text><text transform="translate(-15.15,0.00) rotate(0.03) scale(0.2500)" font-size="46.00">5</text><text transform="translate(-9.05,0.00) rotate(0.03) scale(0.2500)" font-size="46.00">)</text></g></g>
<g fill="#111" stroke="#fff" stroke-width="0.40"><g transform="translate(555.20,369.80)"><text transform="translate(-22.95,0.00) rotate(0.03) scale(0.2500)" font-size="46.00">M</text><text transform="translate(-15.15,0.00) rotate(0.03) scale(0.2500)" font-size="46.00">W</text><text transform="translate(-7.35,0.00) rotate(0.03) scale(0.2500)" font-size="46.00">A</text></g></g>
<g fill="#111" stroke="#fff" stroke-width="0.40"><g transform="translate(555.20,382.40)"><text transform="translate(-38.55,0.00) rotate(0.03) scale(0.2500)" font-size="46.00">L</text><text transform="translate(-30.75,0.00) rotate(0.03) scale(0.2500)" font-size="46.00">O</text><text transform="translate(-22.95,0.00) rotate(0.03) scale(0.2500)" font-size="46.00">F</text><text transform="translate(-15.15,0.00) rotate(0.03) scale(0.2500)" font-size="46.00">A</text><text transform="translate(-7.35,0.00) rotate(0.03) scale(0.2500)" font-size="46.00">R</text></g></g>
<g fill="#111" stroke="#fff" stroke-width="0.40"><g transform="translate(555.20,394.20)"><text transform="translate(-30.75,0.00) rotate(0.03) scale(0.2500)" font-size="46.00">H</text><text transform="translate(-22.95,0.00) rotate(0.03) scale(0.2500)" font-size="46.00">E</text><text transform="translate(-15.15,0.00) rotate(0.03) scale(0.2500)" font-size="46.00">R</text><text transform="translate(-7.35,0.00) rotate(0.03) scale(0.2500)" font-size="46.00">A</text></g></g>
<g fill="#111" stroke="#fff" stroke-width="0.40"><g transform="translate(555.20,406.60)"><text transform="translate(-22.95,0.00) rotate(0.03) scale(0.2500)" font-size="46.00">S</text><text transform="translate(-15.15,0.00) rotate(0.03) scale(0.2500)" font-size="46.00">K</text><text transform="translate(-7.35,0.00) rotate(0.03) scale(0.2500)" font-size="46.00">A</text></g></g>
<path d="M562.6 342.0H597.8" stroke="#000" stroke-width="1.1"/>
<path d="M562.6 354.4H597.8" stroke="#0000ff" stroke-width="1.1" stroke-dasharray="3.7 1.5"/>
<path d="M562.6 366.2H597.8" stroke="#ff0000" stroke-width="2.4" stroke-dasharray="3.7 1.5"/>
<path d="M562.6 378.8H594.6" stroke="#0000ff" stroke-width="2.3" stroke-dasharray="1.8 2.5"/>
<path d="M562.6 390.6H594.6" stroke="#ff00ff" stroke-width="2.1" stroke-dasharray="3 2.2 1 2.2"/>
<path d="M562.6 403.0H597.8" stroke="#000" stroke-width="2.5"/>
</svg>
</body></html>
